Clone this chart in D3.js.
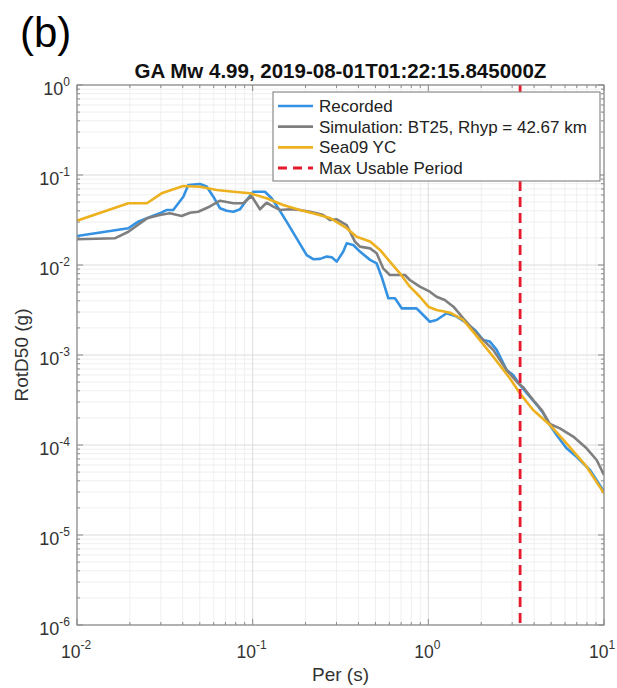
<!DOCTYPE html>
<html>
<head>
<meta charset="utf-8">
<script src="https://cdn.jsdelivr.net/npm/d3@7"></script>
<style>
  body { margin: 0; background: #fff; }
  text { font-family: "Liberation Sans", Arial, sans-serif; }
</style>
</head>
<body>
<div id="chart-area"></div>
<script>
// values
const recordedPer = [0.0100, 0.0196, 0.0223, 0.0250, 0.0296, 0.0325, 0.0353, 0.0403, 0.0430, 0.0501, 0.0547, 0.0597, 0.0652, 0.0711, 0.0777, 0.0847, 0.0925, 0.1007, 0.1175, 0.1282, 0.140, 0.156, 0.178, 0.203, 0.221, 0.242, 0.264, 0.282, 0.301, 0.328, 0.343, 0.374, 0.408, 0.466, 0.508, 0.542, 0.592, 0.646, 0.705, 0.785, 0.857, 0.935, 1.02, 1.114, 1.27, 1.45, 1.615, 1.84, 2.05, 2.24, 2.45, 2.79, 3.04, 3.32, 3.78, 4.23, 4.51, 4.92, 5.37, 6.12, 6.98, 8.32, 10];
const recordedVal = [0.0210, 0.0256, 0.0303, 0.0330, 0.0375, 0.0409, 0.0409, 0.0574, 0.0774, 0.0794, 0.0745, 0.0574, 0.0427, 0.0401, 0.0391, 0.0416, 0.0528, 0.0652, 0.0652, 0.0551, 0.0427, 0.0303, 0.0198, 0.0129, 0.0116, 0.0117, 0.0124, 0.0122, 0.0109, 0.0141, 0.0174, 0.0167, 0.0141, 0.0114, 0.0104, 0.00741, 0.00427, 0.00427, 0.00330, 0.00330, 0.00330, 0.00278, 0.00234, 0.00245, 0.00291, 0.00267, 0.00233, 0.00190, 0.00147, 0.00141, 0.00114, 0.00068, 0.00060, 0.000464, 0.000344, 0.000267, 0.000225, 0.000167, 0.000129, 0.0000918, 0.0000741, 0.0000527, 0.0000303];

const simPer = [0.0100, 0.0164, 0.0196, 0.0250, 0.0296, 0.0338, 0.0394, 0.0440, 0.0490, 0.0571, 0.0652, 0.0777, 0.0883, 0.0986, 0.110, 0.120, 0.131, 0.143, 0.163, 0.186, 0.212, 0.231, 0.252, 0.275, 0.301, 0.343, 0.382, 0.408, 0.466, 0.508, 0.553, 0.604, 0.736, 0.785, 0.895, 1.02, 1.114, 1.24, 1.39, 1.58, 1.88, 2.34, 2.79, 3.25, 3.47, 3.95, 4.42, 4.92, 5.61, 6.68, 7.96, 9.08, 10];
const simVal = [0.0193, 0.0198, 0.0234, 0.0330, 0.0359, 0.0375, 0.0350, 0.0381, 0.0391, 0.0447, 0.0518, 0.0485, 0.0485, 0.0584, 0.0416, 0.0492, 0.0445, 0.0409, 0.0416, 0.0409, 0.0391, 0.0375, 0.0359, 0.0316, 0.0322, 0.0278, 0.0182, 0.0160, 0.0153, 0.0135, 0.00919, 0.00774, 0.00774, 0.00681, 0.00574, 0.00505, 0.00444, 0.00408, 0.00344, 0.00256, 0.00174, 0.00114, 0.00068, 0.000485, 0.000438, 0.000316, 0.000245, 0.000171, 0.000153, 0.000124, 0.0000918, 0.0000681, 0.0000464];

const seaPer = [0.0100, 0.0196, 0.0250, 0.0303, 0.0403, 0.0501, 0.0624, 0.0777, 0.0967, 0.120, 0.149, 0.186, 0.231, 0.275, 0.343, 0.391, 0.466, 0.531, 0.604, 0.689, 0.785, 0.895, 1.0, 1.114, 1.33, 1.58, 1.88, 2.34, 2.91, 3.32, 3.95, 4.92, 6.12, 7.96, 10];
const seaVal = [0.0311, 0.0485, 0.0485, 0.0626, 0.0755, 0.0741, 0.0681, 0.0652, 0.0626, 0.0551, 0.0464, 0.0409, 0.0366, 0.0333, 0.0256, 0.0206, 0.0182, 0.0147, 0.0109, 0.00809, 0.00574, 0.00444, 0.00344, 0.00316, 0.00295, 0.00245, 0.00163, 0.000958, 0.000551, 0.000375, 0.000245, 0.000167, 0.000104, 0.0000574, 0.0000290];

const maxUsablePeriod = 3.33;

const xTickExps = [-2, -1, 0, 1];
const yTickExps = [-6, -5, -4, -3, -2, -1, 0];
const legendLabels = ["Recorded", "Simulation: BT25, Rhyp = 42.67 km", "Sea09 YC", "Max Usable Period"];
const legendColors = ["#3592e2", "#7f7f7f", "#edb120", "#e8192c"];

const titleText = "GA Mw 4.99, 2019-08-01T01:22:15.845000Z";
const panelText = "(b)";
const xLabel = "Per (s)";
const yLabel = "RotD50 (g)";

const W = 617, H = 688;
const PLOT = { LEFT: 77, RIGHT: 604, TOP: 85, BOTTOM: 625 };

const svg = d3.select("#chart-area").append("svg")
  .attr("width", W)
  .attr("height", H);

const x = d3.scaleLog().domain([0.01, 10]).range([PLOT.LEFT, PLOT.RIGHT]);
const y = d3.scaleLog().domain([1e-6, 1]).range([PLOT.BOTTOM, PLOT.TOP]);

// minor / major values
const minorX = [];
xTickExps.slice(0, -1).forEach(e => { for (let k = 2; k <= 9; k++) minorX.push(k * Math.pow(10, e)); });
const minorY = [];
yTickExps.slice(0, -1).forEach(e => { for (let k = 2; k <= 9; k++) minorY.push(k * Math.pow(10, e)); });
const majorX = xTickExps.map(e => Math.pow(10, e));
const majorY = yTickExps.map(e => Math.pow(10, e));

const grid = svg.append("g");
grid.selectAll(".mx").data(minorX).enter().append("line")
  .attr("x1", d => x(d)).attr("x2", d => x(d))
  .attr("y1", PLOT.TOP).attr("y2", PLOT.BOTTOM)
  .attr("stroke", "#efefef").attr("stroke-width", 1);
grid.selectAll(".my").data(minorY).enter().append("line")
  .attr("y1", d => y(d)).attr("y2", d => y(d))
  .attr("x1", PLOT.LEFT).attr("x2", PLOT.RIGHT)
  .attr("stroke", "#efefef").attr("stroke-width", 1);
grid.selectAll(".Mx").data(majorX).enter().append("line")
  .attr("x1", d => x(d)).attr("x2", d => x(d))
  .attr("y1", PLOT.TOP).attr("y2", PLOT.BOTTOM)
  .attr("stroke", "#dcdcdc").attr("stroke-width", 1);
grid.selectAll(".My").data(majorY).enter().append("line")
  .attr("y1", d => y(d)).attr("y2", d => y(d))
  .attr("x1", PLOT.LEFT).attr("x2", PLOT.RIGHT)
  .attr("stroke", "#dcdcdc").attr("stroke-width", 1);

// inward ticks on all four sides
const ticks = svg.append("g").attr("stroke", "#8a8a8a").attr("stroke-width", 1);
[[majorX, 6], [minorX, 3]].forEach(([vals, len]) => {
  vals.forEach(v => {
    ticks.append("line").attr("x1", x(v)).attr("x2", x(v)).attr("y1", PLOT.BOTTOM).attr("y2", PLOT.BOTTOM - len);
    ticks.append("line").attr("x1", x(v)).attr("x2", x(v)).attr("y1", PLOT.TOP).attr("y2", PLOT.TOP + len);
  });
});
[[majorY, 6], [minorY, 3]].forEach(([vals, len]) => {
  vals.forEach(v => {
    ticks.append("line").attr("y1", y(v)).attr("y2", y(v)).attr("x1", PLOT.LEFT).attr("x2", PLOT.LEFT + len);
    ticks.append("line").attr("y1", y(v)).attr("y2", y(v)).attr("x1", PLOT.RIGHT).attr("x2", PLOT.RIGHT - len);
  });
});

svg.append("defs").append("clipPath").attr("id", "clip")
  .append("rect")
  .attr("x", PLOT.LEFT).attr("y", PLOT.TOP)
  .attr("width", PLOT.RIGHT - PLOT.LEFT).attr("height", PLOT.BOTTOM - PLOT.TOP);

const line = d3.line().x(d => x(d[0])).y(d => y(d[1]));

const series = [
  { per: recordedPer, val: recordedVal, color: legendColors[0] },
  { per: simPer, val: simVal, color: legendColors[1] },
  { per: seaPer, val: seaVal, color: legendColors[2] }
];

const lines = svg.append("g").attr("clip-path", "url(#clip)");
lines.selectAll("path").data(series).enter().append("path")
  .attr("d", s => line(d3.zip(s.per, s.val)))
  .attr("fill", "none")
  .attr("stroke", s => s.color)
  .attr("stroke-width", 2.6)
  .attr("stroke-linejoin", "round");

lines.append("line")
  .attr("x1", x(maxUsablePeriod)).attr("x2", x(maxUsablePeriod))
  .attr("y1", PLOT.TOP).attr("y2", PLOT.BOTTOM)
  .attr("stroke", legendColors[3])
  .attr("stroke-width", 2.8)
  .attr("stroke-dasharray", "10,6");

// axes box
svg.append("rect")
  .attr("x", PLOT.LEFT).attr("y", PLOT.TOP)
  .attr("width", PLOT.RIGHT - PLOT.LEFT).attr("height", PLOT.BOTTOM - PLOT.TOP)
  .attr("fill", "none").attr("stroke", "#8a8a8a").attr("stroke-width", 1.2);

// tick labels as 10^n
function powLabel(sel, e) {
  sel.append("tspan").text("10");
  sel.append("tspan").attr("dy", -9).attr("font-size", 12).text(e);
}
svg.append("g").selectAll("text").data(xTickExps).enter().append("text")
  .attr("x", d => Math.min(x(Math.pow(10, d)) - 1, 602))
  .attr("y", 658)
  .attr("text-anchor", "middle")
  .attr("font-size", 17.5)
  .attr("fill", "#333")
  .each(function(d) { powLabel(d3.select(this), d); });

svg.append("g").selectAll("text").data(yTickExps).enter().append("text")
  .attr("x", 70)
  .attr("y", d => y(Math.pow(10, d)) + 10)
  .attr("text-anchor", "end")
  .attr("font-size", 18)
  .attr("fill", "#333")
  .each(function(d) { powLabel(d3.select(this), d); });

svg.append("text")
  .attr("x", (PLOT.LEFT + PLOT.RIGHT) / 2)
  .attr("y", 681)
  .attr("text-anchor", "middle")
  .attr("font-size", 19)
  .attr("fill", "#333")
  .text(xLabel);

svg.append("text")
  .attr("transform", `translate(28, ${(PLOT.TOP + PLOT.BOTTOM) / 2}) rotate(-90)`)
  .attr("text-anchor", "middle")
  .attr("font-size", 19)
  .attr("fill", "#333")
  .text(yLabel);

svg.append("text")
  .attr("x", (PLOT.LEFT + PLOT.RIGHT) / 2)
  .attr("y", 78)
  .attr("text-anchor", "middle")
  .attr("font-size", 20.5)
  .attr("font-weight", "bold")
  .attr("fill", "#111")
  .text(titleText);

svg.append("text")
  .attr("x", 20)
  .attr("y", 47)
  .attr("font-size", 42)
  .attr("fill", "#000")
  .text(panelText);

// legend
const legend = svg.append("g");
legend.append("rect")
  .attr("x", 273).attr("y", 92)
  .attr("width", 327).attr("height", 89)
  .attr("fill", "#fff").attr("stroke", "#8a8a8a").attr("stroke-width", 1.2);

const rowY = d3.scaleLinear().domain([0, 3]).range([106, 168]);
const rows = legend.selectAll(".row").data(legendLabels).enter().append("g")
  .attr("transform", (d, i) => `translate(0, ${rowY(i)})`);
rows.append("line")
  .attr("x1", 278).attr("x2", 313)
  .attr("stroke", (d, i) => legendColors[i])
  .attr("stroke-width", (d, i) => i === 3 ? 2.8 : 2.6)
  .attr("stroke-dasharray", (d, i) => i === 3 ? "9,6" : null);
rows.append("text")
  .attr("x", 319).attr("y", 6)
  .attr("font-size", 17)
  .attr("fill", "#222")
  .text(d => d);
</script>
</body>
</html>
